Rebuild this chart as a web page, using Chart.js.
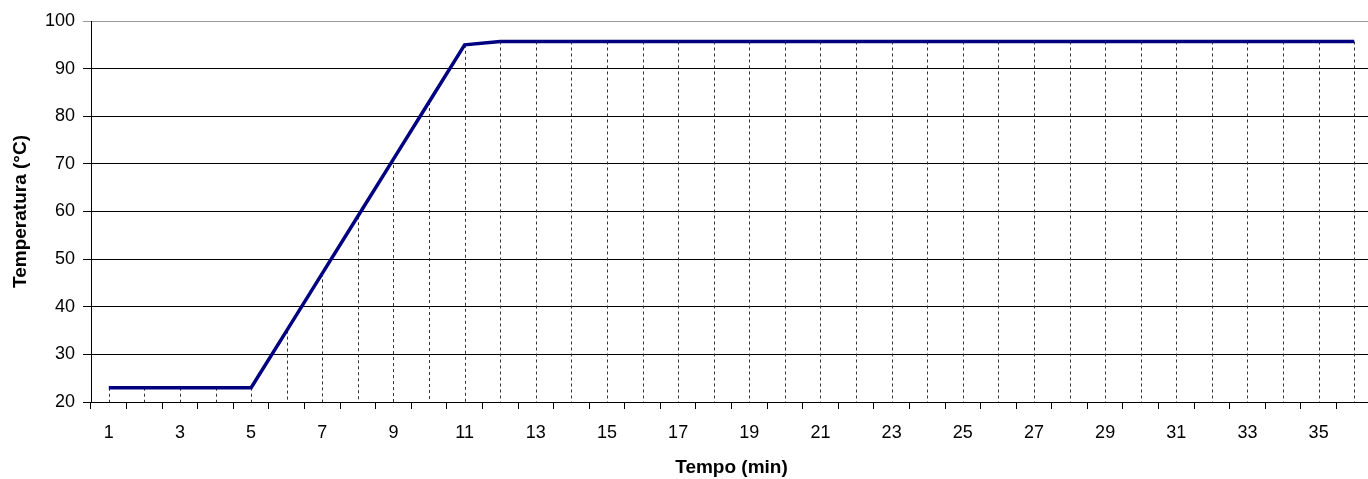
<!DOCTYPE html>
<html>
<head>
<meta charset="utf-8">
<script src="https://cdn.jsdelivr.net/npm/chart.js@4"></script>
<style>
  html, body { margin: 0; padding: 0; background: #fff; overflow: hidden; }
  #wrap { width: 1372px; height: 479px; }
</style>
</head>
<body>
<div id="wrap"><canvas id="graph1"></canvas></div>
<script>
// time in minutes (categories)
var minutes = ['1','2','3','4','5','6','7','8','9','10','11','12','13','14','15','16','17','18',
               '19','20','21','22','23','24','25','26','27','28','29','30','31','32','33','34','35','36'];
// temperature
var temps = [23, 23, 23, 23, 23, 35, 47, 59, 71, 83, 95, 95.7, 95.7, 95.7, 95.7, 95.7, 95.7, 95.7,
             95.7, 95.7, 95.7, 95.7, 95.7, 95.7, 95.7, 95.7, 95.7, 95.7, 95.7, 95.7, 95.7, 95.7, 95.7, 95.7, 95.7, 95.7];
var yMin = 20, yMax = 100, yStep = 10;

// dashed drop lines from each point down to the axis
var dropLines = {
  id: 'dropLines',
  beforeDatasetsDraw: function(chart) {
    var ctx = chart.ctx;
    var bottom = chart.chartArea.bottom;
    var meta = chart.getDatasetMeta(0);
    ctx.save();
    ctx.strokeStyle = '#333';
    ctx.lineWidth = 1;
    ctx.setLineDash([3, 3]);
    meta.data.forEach(function(p) {
      var x = Math.round(p.x) + 0.5;
      ctx.beginPath();
      ctx.moveTo(x, p.y);
      ctx.lineTo(x, bottom);
      ctx.stroke();
    });
    ctx.restore();
  }
};

document.addEventListener('DOMContentLoaded', function() {
  Chart.defaults.font.family = '"Liberation Sans", Arial, sans-serif';
  Chart.defaults.color = '#000';
  var ctx = document.querySelector('#graph1').getContext('2d');
  var chart = new Chart(ctx, {
    type: 'line',
    data: {
      labels: minutes,
      datasets: [{
        label: 'Temperatura',
        data: temps,
        borderColor: '#000080',
        backgroundColor: '#000080',
        borderWidth: 3.5,
        pointRadius: 0,
        tension: 0
      }]
    },
    options: {
      responsive: true,
      maintainAspectRatio: false,
      animation: false,
      layout: { padding: { top: 21, left: 9, right: 0, bottom: 0 } },
      plugins: {
        legend: { display: false },
        tooltip: { enabled: false }
      },
      scales: {
        x: {
          offset: true,
          grid: {
            offset: true,
            drawOnChartArea: false,
            drawTicks: true,
            tickLength: 7,
            color: '#000'
          },
          border: { color: '#000', width: 1 },
          ticks: {
            autoSkip: false,
            maxRotation: 0,
            padding: 13,
            font: { size: 18 },
            callback: function(v, i) { return i % 2 === 0 ? minutes[i] : ''; }
          },
          title: {
            display: true,
            text: 'Tempo (min)',
            font: { size: 19, weight: 'bold' },
            padding: { top: 8, bottom: 0 }
          },
          afterFit: function(scale) { scale.height = 77; }
        },
        y: {
          min: yMin,
          max: yMax,
          grid: {
            color: function(c) { return c.tick && c.tick.value === yMax ? '#999' : '#000'; },
            lineWidth: 1,
            drawTicks: true,
            tickLength: 8
          },
          border: { color: '#000', width: 1 },
          ticks: {
            stepSize: yStep,
            padding: 8,
            font: { size: 18 }
          },
          title: {
            display: true,
            text: 'Temperatura (°C)',
            font: { size: 19, weight: 'bold' },
            padding: { top: 0, bottom: 4 }
          },
          afterFit: function(scale) { scale.width = 82; }
        }
      }
    },
    plugins: [dropLines]
  });
});
</script>
</body>
</html>
